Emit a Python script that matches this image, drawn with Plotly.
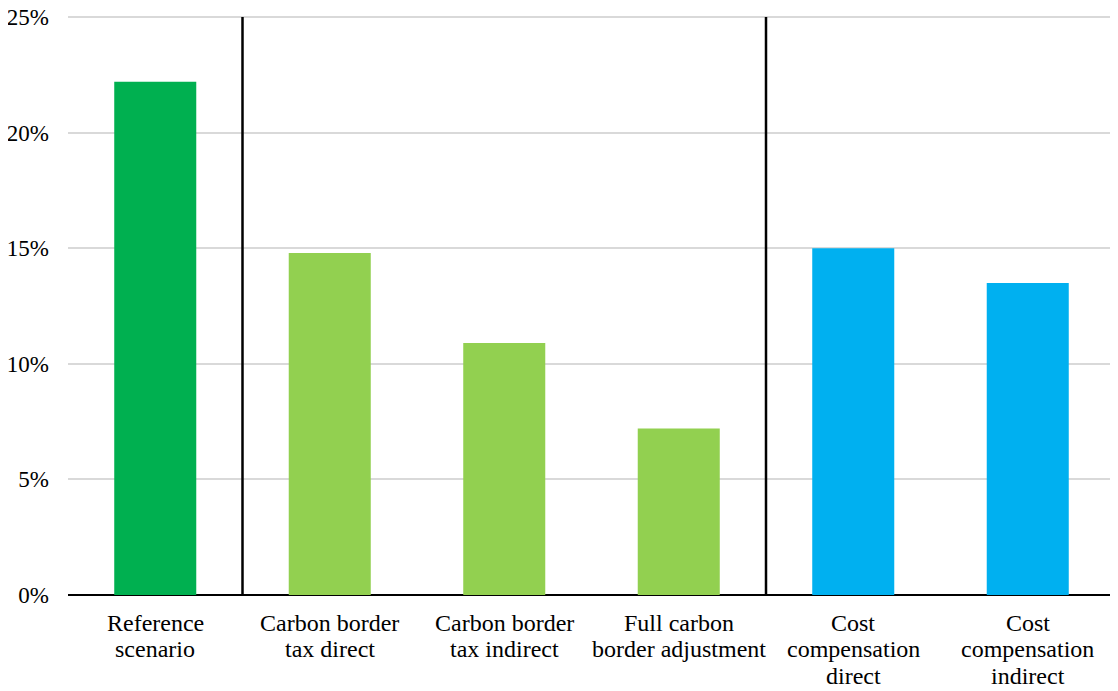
import plotly.graph_objects as go

categories = ["Reference\nscenario", "Carbon border\ntax direct", "Carbon border\ntax indirect",
              "Full carbon\nborder adjustment", "Cost\ncompensation\ndirect", "Cost\ncompensation\nindirect"]
values = [22.2, 14.8, 10.9, 7.2, 15.0, 13.5]
colors = ["#00B050", "#92D050", "#92D050", "#92D050", "#00B0F0", "#00B0F0"]
separators = [0.5, 3.5]
y_ticks = [0, 5, 10, 15, 20, 25]
y_tick_labels = ["0%", "5%", "10%", "15%", "20%", "25%"]

FONT = "Liberation Serif, Times New Roman, serif"

xs = list(range(len(categories)))
fig = go.Figure(go.Bar(x=xs, y=values, marker_color=colors,
                       marker_line_width=0, width=0.47))

for s in separators:
    fig.add_shape(type="line", xref="x", yref="y", x0=s, x1=s, y0=0, y1=25,
                  line=dict(color="black", width=2.5))

# category labels, one annotation per text line (tight Excel-like line spacing)
for i, cat in enumerate(categories):
    for j, line in enumerate(cat.split("\n")):
        fig.add_annotation(x=i, xref="x", y=0, yref="paper", text=line, showarrow=False,
                           xanchor="center", yanchor="middle", yshift=-27.5 - 26.5 * j,
                           font=dict(family=FONT, size=24, color="black"))

fig.update_layout(
    width=1110, height=683,
    margin=dict(l=60, r=3, t=1, b=96, autoexpand=False),
    plot_bgcolor="white", paper_bgcolor="white",
    font=dict(family=FONT, size=24, color="black"),
    showlegend=False,
)
fig.update_xaxes(range=[-0.5, 5.5], showgrid=False, showline=False, zeroline=False,
                 showticklabels=False, ticks="", automargin=False)
fig.update_yaxes(range=[0, 25.35], tickvals=y_ticks, ticktext=y_tick_labels,
                 showgrid=True, gridcolor="#d9d9d9", gridwidth=1.5,
                 zeroline=True, zerolinecolor="black", zerolinewidth=2,
                 showline=False, tickfont=dict(family=FONT, size=23, color="black"), ticks="",
                 ticklabelstandoff=18, ticklabeloverflow="allow", automargin=False)

fig.write_html("out.html")
